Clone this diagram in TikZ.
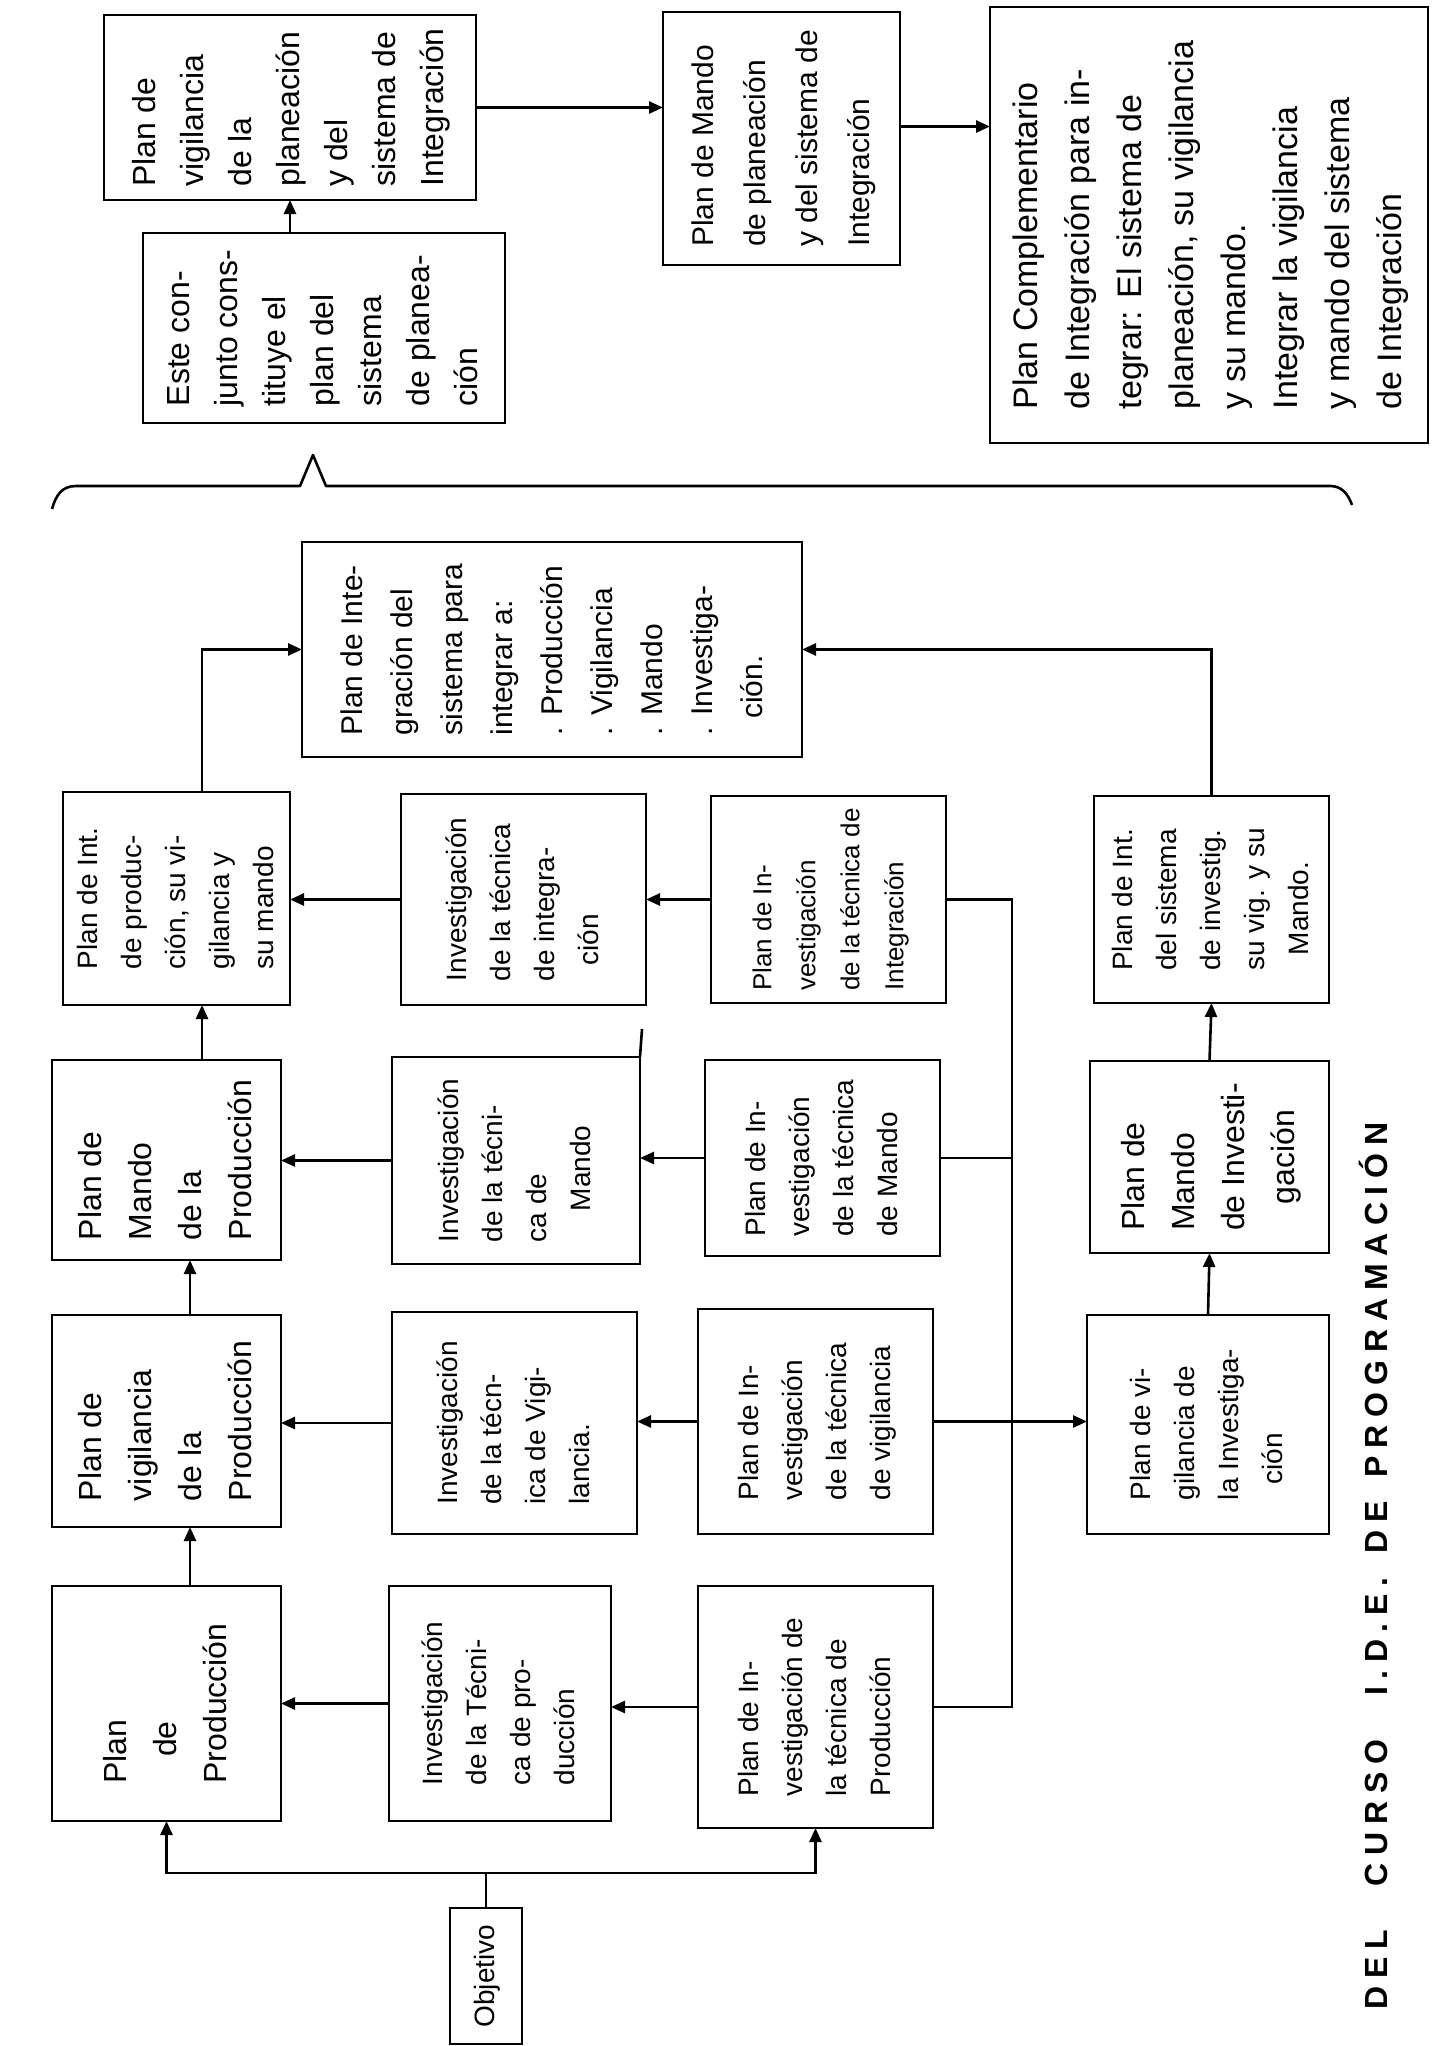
\documentclass[tikz,border=0pt]{standalone}
\usepackage{fontspec}
\setmainfont{Liberation Sans}
\newfontfamily\capfont[LetterSpace=24]{Liberation Sans}
\usetikzlibrary{arrows.meta}
\newcommand{\vt}[1]{\rotatebox{90}{\begin{tabular}{@{}l@{}}#1\end{tabular}}}
\newcommand{\bx}[7]{\node[box,#2,minimum width={(#5-#3)*0.5pt},minimum height={(#6-#4)*0.5pt}] (#1) at ({(#3+#5)/2},{(#4+#6)/2}) {\vt{#7}};}
\begin{document}
\begin{tikzpicture}[x=0.5pt,y=-0.5pt,
  box/.style={draw, line width=1.3pt, inner sep=0pt, outer sep=0pt},
  ln/.style={line width=1.3pt},
  arr/.style={ln, -{Triangle[length=7pt,width=6pt]}},
  tA/.style={font=\fontsize{16}{24}\selectfont},
  tC/.style={font=\fontsize{15}{26}\selectfont},
  tD/.style={font=\fontsize{17}{26}\selectfont},
  tB/.style={font=\fontsize{16}{25}\selectfont},
  tS/.style={font=\fontsize{14}{22}\selectfont},
  tT/.style={font=\fontsize{13}{22}\selectfont},
  tL/.style={font=\fontsize{15}{25}\selectfont}]
\fill[white] (0,0) rectangle (1432,2046);
\useasboundingbox (0,0) rectangle (1432,2046);

% ---------- top part ----------
\bx{A}{tA}{104}{15}{476}{200}{Plan de\\vigilancia\\de la\\planeación\\y del\\sistema de\\Integración}
\bx{B}{tA}{143}{233}{505}{423}{Este con-\\junto cons-\\tituye el\\plan del\\sistema\\de planea-\\ción}
\bx{C}{tC}{663}{12}{900}{265}{Plan de Mando\\de planeación\\y del sistema de\\Integración}
\bx{D}{tD}{990}{7}{1428}{443}{Plan Complementario\\de Integración para in-\\tegrar: El sistema de\\planeación, su vigilancia\\y su mando.\\Integrar la vigilancia\\y mando del sistema\\de Integración}

\draw[arr] (B.north -| A.south) -- (A.south);
\draw[arr] (A.east) -- (A.east -| C.west);
\draw[arr] ([yshift=6pt]C.east) -- ([yshift=6pt]C.east -| D.west);

% brace
\draw[ln, line join=round] (52,509) .. controls (56,495) and (62,486) .. (76,486) -- (300,486) -- (313,455) -- (326,486) -- (1330,486) .. controls (1342,486) and (1348,494) .. (1352,505);

% ---------- integration box ----------
\bx{G}{tL}{302}{542}{802}{757}{Plan de Inte-\\gración del\\sistema para\\integrar a:\\. Producción\\. Vigilancia\\. Mando\\. Investiga-\\\ \ ción.}

% ---------- row 4 ----------
\bx{P4}{tS}{63}{792}{290}{1005}{Plan de Int.\\de produc-\\ción, su vi-\\gilancia y\\su mando}
\bx{I4}{tS}{401}{794}{646}{1005}{Investigación\\de la técnica\\de integra-\\\ \ ción}
\bx{T4}{tT}{711}{796}{946}{1003}{Plan de In-\\vestigación\\de la técnica de\\Integración}
\bx{V4}{tS}{1094}{796}{1329}{1003}{Plan de Int.\\del sistema\\de investig.\\su vig. y su\\\ \ Mando.}

% ---------- row 3 ----------
\bx{P3}{tB}{52}{1060}{281}{1260}{Plan de\\Mando\\de la\\Producción}
\bx{I3}{tS}{392}{1057}{640}{1264}{Investigación\\de la técni-\\ca de\\\ \ \ \ Mando}
\bx{T3}{tS}{705}{1060}{940}{1256}{Plan de In-\\vestigación\\de la técnica\\de Mando}
\bx{V3}{tB}{1090}{1061}{1329}{1253}{Plan de\\Mando\\de Investi-\\\ \ \ gación}

% ---------- row 2 ----------
\bx{P2}{tB}{52}{1315}{281}{1527}{Plan de\\vigilancia\\de la\\Producción}
\bx{I2}{tS}{392}{1312}{637}{1534}{Investigación\\de la técn-\\ica de Vigi-\\lancia.}
\bx{T2}{tS}{698}{1309}{933}{1534}{Plan de In-\\vestigación\\de la técnica\\de vigilancia}
\bx{V2}{tS}{1087}{1315}{1329}{1534}{Plan de vi-\\gilancia de\\la Investiga-\\\ \ ción}

% ---------- row 1 ----------
\bx{P1}{tB}{52}{1586}{281}{1821}{Plan\\\ \ \ de\\Producción}
\bx{I1}{tS}{389}{1586}{611}{1821}{Investigación\\de la Técni-\\ca de pro-\\ducción}
\bx{T1}{tS}{698}{1586}{933}{1828}{Plan de In-\\vestigación de\\la técnica de\\Producción}

\bx{O}{tS}{450}{1908}{522}{2044}{Objetivo}

% caption
\node[rotate=90, anchor=west, inner sep=0pt, font=\capfont\bfseries\fontsize{16}{18}\selectfont] (cap) at (1373,2010) {DEL\hspace{22pt}CURSO\hspace{22pt}I.D.E.\hspace{12pt}DE\hspace{12pt}PROGRAMACIÓN};

% ---------- connectors ----------
\coordinate (bus) at (486,1873);
\coordinate (c1) at (190,0);
\coordinate (c1b) at (202,0);
\coordinate (rb) at (1012,0);

\draw[ln] (O.north) -- (O.north |- bus);
\draw[arr] (O.north |- bus) -| (P1.south);
\draw[arr] (O.north |- bus) -| (T1.south);

\draw[arr] (P1.north -| c1) -- (P2.south -| c1);
\draw[arr] (P2.north -| c1) -- (P3.south -| c1);
\draw[arr] (P3.north -| c1b) -- (P4.south -| c1b);
\draw[arr] (P4.north -| c1b) |- (G.west);

\draw[arr] (V2.north) -- (V3.south);
\draw[arr] (V3.north) -- (V4.south);
\draw[arr] (V4.north) |- (G.east);

\draw[arr] (T4.west) -- (I4.east |- T4.west);
\draw[arr] (I4.west) -- (P4.east |- I4.west);
\draw[arr] (T3.west) -- (I3.east |- T3.west);
\draw[arr] (I3.west) -- (P3.east |- I3.west);
\draw[arr] (T2.west) -- (I2.east |- T2.west);
\draw[arr] (I2.west) -- (P2.east |- I2.west);
\draw[arr] (T1.west) -- (I1.east |- T1.west);
\draw[arr] (I1.west) -- (P1.east |- I1.west);

\draw[ln] (T4.east) -- (T4.east -| rb) -- (T1.east -| rb) -- (T1.east);
\draw[ln] (T3.east) -- (T3.east -| rb);
\draw[arr] (T2.east) -- (V2.west |- T2.east);

\draw[ln] (I3.north east) -- ++(2,-28);
\end{tikzpicture}
\end{document}
